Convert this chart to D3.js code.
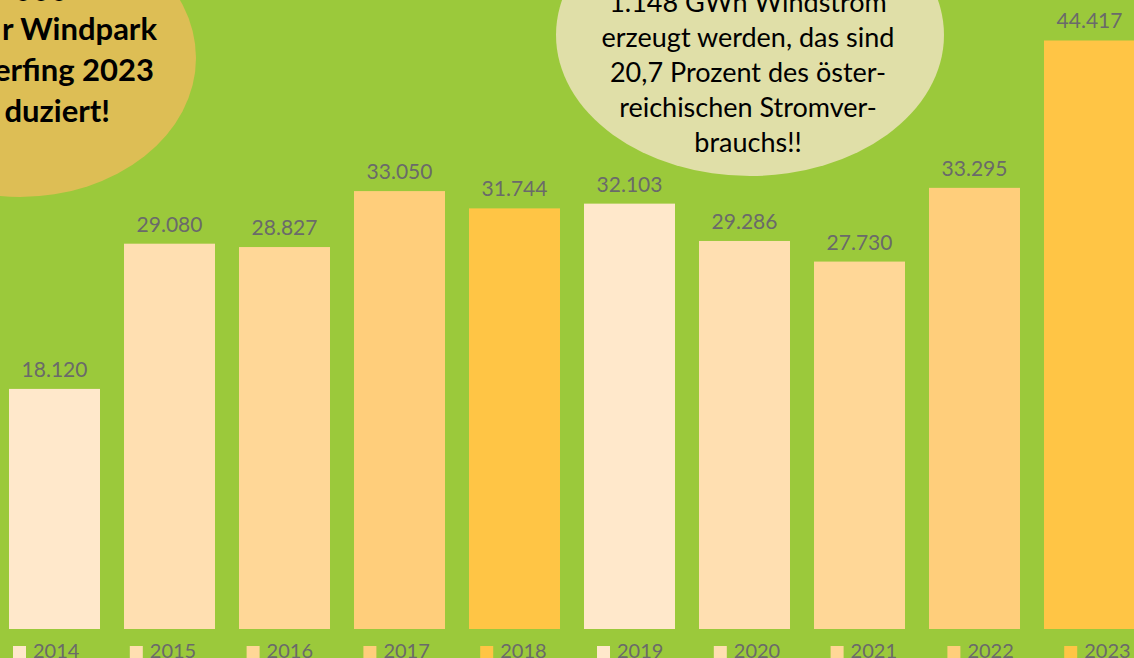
<!DOCTYPE html>
<html>
<head>
<meta charset="utf-8">
<script src="https://cdn.jsdelivr.net/npm/d3@7/dist/d3.min.js"></script>
<style>
html,body{margin:0;padding:0;background:#9BC93B;overflow:hidden;}
svg{display:block;}
</style>
</head>
<body>
<svg id="chart" width="1134" height="658"></svg>
<script>
const years = ["2014","2015","2016","2017","2018","2019","2020","2021","2022","2023"];
const values = [18120, 29080, 28827, 33050, 31744, 32103, 29286, 27730, 33295, 44417];
const barColors = ["#FFE8CB","#FFDFB1","#FFD797","#FFCE7B","#FFC545","#FFE8CB","#FFDFB1","#FFD797","#FFCE7B","#FFC545"];
const leftNote = ["000", "r Windpark", "erfing 2023", "duziert!"];
const rightNote = ["1.148 GWh Windstrom", "erzeugt werden, das sind", "20,7 Prozent des öster-", "reichischen Stromver-", "brauchs!!"];

const W = 1134, H = 658;
const svg = d3.select("#chart");
svg.append("rect").attr("width", W).attr("height", H).attr("fill", "#9BC93B");

const fmt = v => d3.format(",")(v).replace(/,/g, ".");

const x = d3.scaleBand().domain(years).range([-3, 1147]).paddingInner(24/115).paddingOuter(12/115);
const y = d3.scaleLinear().domain([0, 47472]).range([629, 0]);

// bars
svg.append("g").selectAll("rect").data(years).join("rect")
  .attr("x", d => x(d))
  .attr("y", (d, i) => y(values[i]))
  .attr("width", x.bandwidth())
  .attr("height", (d, i) => y(0) - y(values[i]))
  .attr("fill", (d, i) => barColors[i]);

// value labels
svg.append("g").selectAll("text").data(years).join("text")
  .attr("x", d => x(d) + x.bandwidth() / 2)
  .attr("y", (d, i) => y(values[i]) - 12)
  .attr("text-anchor", "middle")
  .attr("font-family", "Lato, 'Open Sans', sans-serif")
  .attr("font-size", 21)
  .attr("fill", "#6A6A6A")
  .text((d, i) => fmt(values[i]));

// legend
const lx = d3.scaleBand().domain(years).range([13, 13 + 116.8 * 10]);
const lg = svg.append("g").selectAll("g").data(years).join("g")
  .attr("transform", d => `translate(${lx(d)},646)`);
lg.append("rect").attr("width", 13).attr("height", 13).attr("fill", (d, i) => barColors[i]);
lg.append("text").attr("x", 20).attr("y", 12)
  .attr("font-family", "Lato, 'Open Sans', sans-serif")
  .attr("font-size", 20)
  .attr("fill", "#6A6A6A")
  .text(d => d);

// left note bubble
svg.append("ellipse").attr("cx", 20).attr("cy", 58).attr("rx", 176).attr("ry", 139).attr("fill", "#DDBE55");
const leftEnds = [68, 157, 154, 110];
const leftBase = [1, 40, 81, 122];
svg.append("g").selectAll("text").data(leftNote).join("text")
  .attr("x", (d, i) => leftEnds[i])
  .attr("y", (d, i) => leftBase[i])
  .attr("text-anchor", "end")
  .attr("font-family", "Lato, 'Open Sans', sans-serif")
  .attr("font-weight", "bold")
  .attr("font-size", 31)
  .attr("fill", "#000")
  .text(d => d);

// right note bubble
svg.append("ellipse").attr("cx", 750).attr("cy", 35).attr("rx", 194).attr("ry", 141).attr("fill", "#E0DFA8");
svg.append("g").selectAll("text").data(rightNote).join("text")
  .attr("x", 748)
  .attr("y", (d, i) => 12 + i * 35)
  .attr("text-anchor", "middle")
  .attr("font-family", "Lato, 'Open Sans', sans-serif")
  .attr("font-size", 27)
  .attr("fill", "#000")
  .text(d => d);
</script>
</body>
</html>
